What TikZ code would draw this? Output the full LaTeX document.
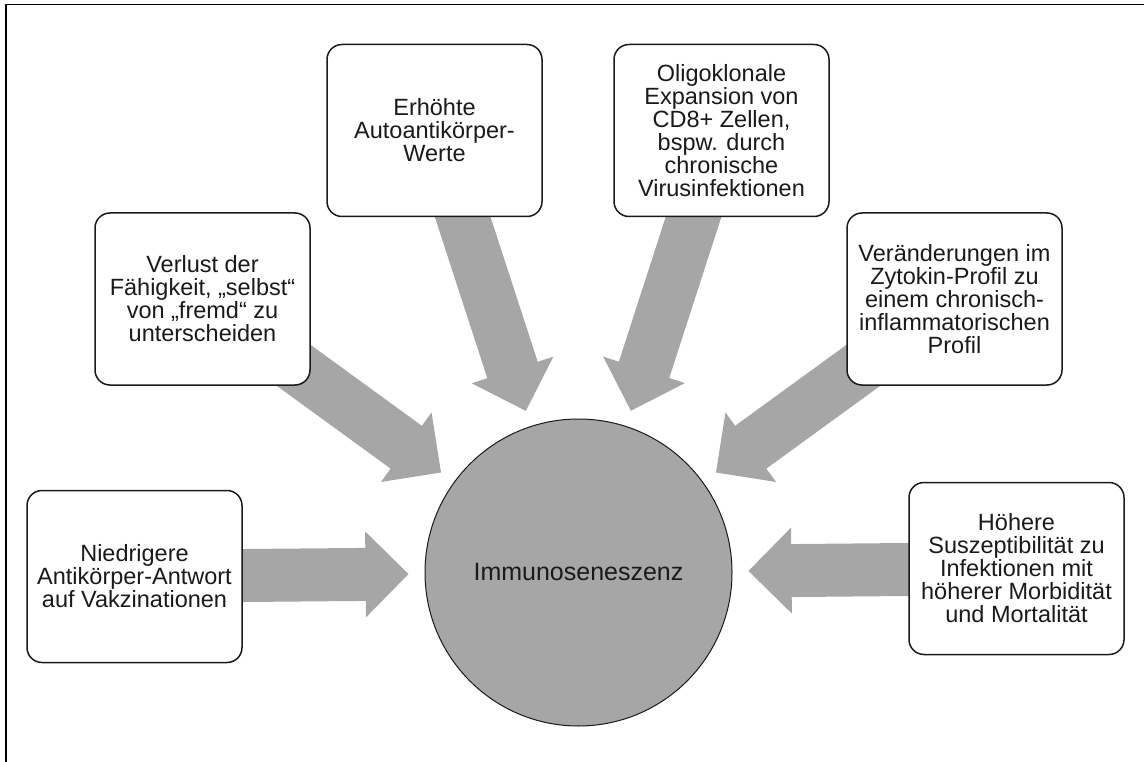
\documentclass[tikz,border=0pt]{standalone}
\usepackage{fontspec}
\setmainfont{Liberation Sans}
\usetikzlibrary{calc,backgrounds}
\definecolor{grayfill}{HTML}{A6A6A6}
\definecolor{boxedge}{HTML}{1A1A1A}
\newcommand\boxfont{\fontsize{23.5}{23}\selectfont\lineskiplimit=-100pt\relax}
\tikzset{
  box/.style={draw=boxedge, line width=1.5pt, rounded corners=15pt, fill=white,
    minimum width=215pt, minimum height=172pt, align=center, inner sep=0pt,
    text=boxedge, font=\boxfont},
  hub/.style={circle, draw=boxedge, line width=1pt, fill=grayfill,
    minimum size=307pt, inner sep=0pt, text=boxedge,
    font=\fontsize{25}{28}\selectfont},
  blockarrow/.style={fill=grayfill, draw=none},
  frameline/.style={draw=black, line width=1.5pt},
}
\newcommand\inarrow[2]{%
  \path ($(#2.center)!170pt!(#1.center)$) coordinate (tip)
        ($(#2.center)!213pt!(#1.center)$) coordinate (hb);
  \fill[blockarrow] ($(#1.center)!26.5pt!90:(tip)$) -- ($(hb)!26.5pt!90:(tip)$)
    -- ($(hb)!43pt!90:(tip)$) -- (tip) -- ($(hb)!43pt!-90:(tip)$)
    -- ($(hb)!26.5pt!-90:(tip)$) -- ($(#1.center)!26.5pt!-90:(tip)$) -- cycle;
}
\begin{document}
\begin{tikzpicture}[x=1pt,y=-1pt]
\useasboundingbox (0,0) rectangle (1144,762);
\coordinate (fa) at (6.2,762);
\coordinate (fb) at (6.2,4.6);
\coordinate (fc) at (1144,4.6);
\draw[frameline] (fa) -- (fb) -- (fc);

\node[hub] (c) at (578.5,572.5) {Immunoseneszenz};

\node[box] (b1) at (134.5,576.5) {Niedrigere\\Antikörper-Antwort\\auf Vakzinationen};
\node[box] (b2) at (202.5,299) {Verlust der\\Fähigkeit, „selbst“\\von „fremd“ zu\\unterscheiden};
\node[box] (b3) at (434.5,130.5) {Erhöhte\\Autoantikörper-\\Werte};
\node[box] (b4) at (721.5,130.5) {Oligoklonale\\Expansion von\\CD8+ Zellen,\\bspw. durch\\chronische\\Virusinfektionen};
\node[box] (b5) at (954.5,299) {Veränderungen im\\Zytokin-Profil zu\\einem chronisch-\\inflammatorischen\\Profil};
\node[box] (b6) at (1016.5,568.5) {Höhere\\Suszeptibilität zu\\Infektionen mit\\höherer Morbidität\\und Mortalität};

\begin{pgfonlayer}{background}
\inarrow{b1}{c}
\inarrow{b2}{c}
\inarrow{b3}{c}
\inarrow{b4}{c}
\inarrow{b5}{c}
\inarrow{b6}{c}
\end{pgfonlayer}
\end{tikzpicture}
\end{document}
